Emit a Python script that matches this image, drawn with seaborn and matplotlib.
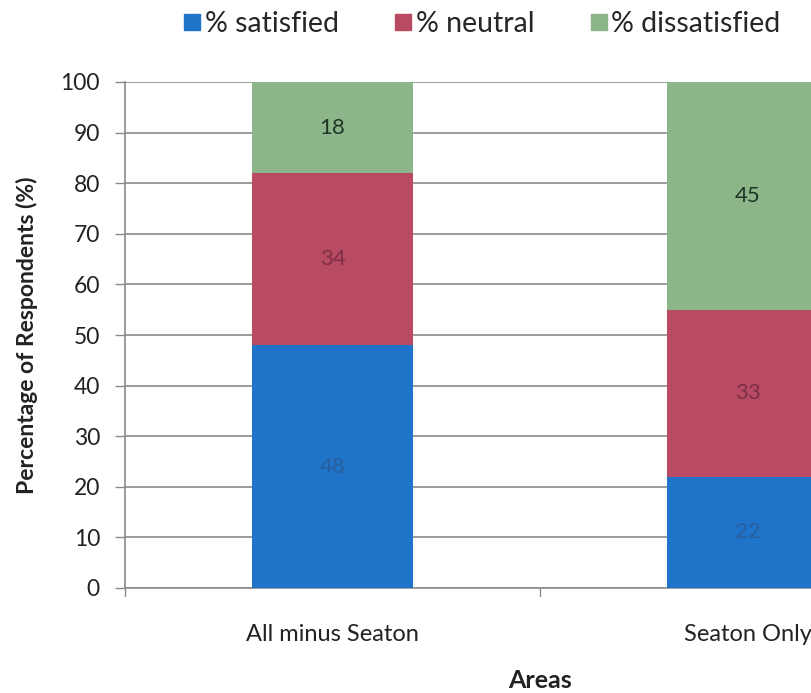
import matplotlib
matplotlib.use("Agg")
import matplotlib.pyplot as plt
import seaborn as sns
import numpy as np
import pandas as pd
from matplotlib.lines import Line2D

areas = ["All minus Seaton", "Seaton Only"]
satisfied = [48, 22]
neutral = [34, 33]
dissatisfied = [18, 45]
series_names = ["% satisfied", "% neutral", "% dissatisfied"]
series_colors = ["#1f74c9", "#b84a62", "#8db58a"]
label_colors = ["#2a5f9e", "#7d2f48", "#1f3526"]
y_ticks = list(range(0, 101, 10))

sns.set_theme(style="white")
plt.rcParams["font.family"] = ["Lato", "DejaVu Sans"]

fig = plt.figure(figsize=(8.12, 6.93), dpi=100)
ax = fig.add_axes([125 / 812, 1 - 588 / 693, 830 / 812, 506 / 693])

values = [satisfied, neutral, dissatisfied]
cum = np.cumsum(np.array(values), axis=0)

df = pd.DataFrame({"area": areas})
# draw from the top of the stack down so each lower segment covers the one above
for i in range(len(series_names) - 1, -1, -1):
    df["top"] = cum[i]
    sns.barplot(data=df, x="area", y="top", color=series_colors[i],
                width=0.39, saturation=1, ax=ax, zorder=3, linewidth=0)

for i in range(len(series_names)):
    for j in range(len(areas)):
        bottom = cum[i][j] - values[i][j]
        ax.text(j, bottom + values[i][j] / 2, str(values[i][j]),
                ha="center", va="center", fontsize=16,
                color=label_colors[i], zorder=5)

ax.set_xlim(-0.5, 1.5)
ax.set_ylim(0, 100)
ax.set_yticks(y_ticks)
ax.set_yticklabels([str(t) for t in y_ticks], fontsize=16.5, color="#222222")
ax.yaxis.grid(True, color="#8a8a8a", linewidth=1.2, zorder=0)
ax.set_axisbelow(True)

ax.set_xticks([0, 1])
ax.set_xticklabels(areas, fontsize=17, color="#222222")
ax.tick_params(axis="x", length=0, pad=26)
ax.tick_params(axis="y", length=7, width=1, color="#8a8a8a", left=True, pad=11)
for x in [-0.5, 0.5, 1.5]:
    ax.plot([x, x], [0, -1.6], color="#8a8a8a", lw=1, clip_on=False)

for side in ["top", "right"]:
    ax.spines[side].set_visible(False)
for side in ["left", "bottom"]:
    ax.spines[side].set_color("#8a8a8a")
    ax.spines[side].set_linewidth(1.2)

ax.set_xlabel("Areas", fontsize=18, fontweight="bold", color="#222222",
              va="center")
ax.xaxis.set_label_coords(0.5, -0.182)
ax.set_ylabel("Percentage of Respondents (%)", fontsize=16.5, fontweight="bold",
              color="#222222", labelpad=16)

handles = [Line2D([], [], marker="s", linestyle="none", markersize=11,
                  markerfacecolor=c, markeredgecolor=c) for c in series_colors]
fig.legend(handles, series_names, loc="center", bbox_to_anchor=(0.593, 0.965),
           ncol=3, frameon=False, fontsize=20.5, handletextpad=0.1,
           columnspacing=1.9, handlelength=0.7)

fig.savefig("out.png", dpi=100)
